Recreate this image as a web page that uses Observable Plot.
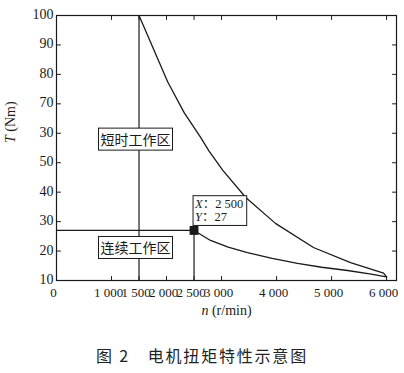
<!DOCTYPE html>
<html><head><meta charset="utf-8">
<script src="https://cdn.jsdelivr.net/npm/d3@7"></script>
<script src="https://cdn.jsdelivr.net/npm/@observablehq/plot@0.6"></script>
<style>
body{margin:0;background:#fff;}
#chart{width:404px;height:330px;}
.caption{font-family:"Noto Sans CJK SC",sans-serif;font-size:16px;letter-spacing:1.8px;text-align:center;white-space:pre;color:#222;line-height:20px;margin-top:15px;width:404px;}
</style></head><body>
<div id="chart"></div>
<div class="caption">图 2　电机扭矩特性示意图</div>
<script>
// Peak (short-time) torque curve
const upperN = [1500, 2020, 2320, 2620, 2770, 3020, 3440, 3980, 4670, 5345, 5945, 6000];
const upperT = [100, 77.5, 67, 58.6, 54, 47.5, 38.2, 29.4, 21.2, 16.1, 12.5, 11.2];
// Continuous torque curve
const lowerN = [2500, 2800, 3120, 3470, 3920, 4380, 4820, 5290, 5720, 5945, 6000];
const lowerT = [27, 23.6, 21.3, 19.5, 17.5, 15.8, 14.5, 13.4, 12.2, 11.4, 11.2];
// Reference values
const baseSpeed = 1500;
const markN = 2500;
const markT = 27;
const yMin = 10, yMax = 100, xMin = 0, xMax = 6180;
// Ticks
const xTicks = [0, 1000, 1500, 2000, 2500, 3000, 4000, 5000, 6000];
const xTickLabels = ["0", "1 000", "1 500", "2 000", "2 500", "3 000", "4 000", "5 000", "6 000"];
const yTicks = [10, 20, 30, 40, 50, 60, 70, 80, 90, 100];
const yTickLabels = ["10", "20", "30", "40", "50", "30", "70", "80", "90", "100"];
// Annotations
const regionNames = ["短时工作区", "连续工作区"];
const regionN = [1436, 1436];
const regionT = [57.5, 20.7];
const markLabel = "X：2 500\nY：27";
const xLabel = "n (r/min)";
const yLabel = "T (Nm)";

const ink = "#1a1a1a";
const serif = '"Liberation Serif","Times New Roman","DejaVu Serif","Noto Sans CJK SC",serif';
const cjk = '"Noto Sans CJK SC",sans-serif';
const upper = upperN.map((n, i) => ({n, T: upperT[i]}));
const lower = lowerN.map((n, i) => ({n, T: lowerT[i]}));
const regions = regionNames.map((label, i) => ({label, n: regionN[i], T: regionT[i]}));
const line = {draw(ctx, l) { ctx.moveTo(0, 0); ctx.lineTo(0, -l); }};
const tk = {length: 4, anchor: "start", shape: line, stroke: ink, strokeWidth: 1};

const svg = Plot.plot({
  width: 404, height: 330,
  marginLeft: 56, marginRight: 8, marginTop: 15, marginBottom: 50,
  style: {fontFamily: serif, fontSize: "13px", color: ink, background: "#fff"},
  x: {domain: [xMin, xMax]},
  y: {domain: [yMin, yMax]},
  marks: [
    Plot.ruleX([baseSpeed], {y1: yMin, y2: yMax, stroke: ink, strokeWidth: 1.2}),
    Plot.ruleY([markT], {x1: xMin, x2: markN, stroke: ink, strokeWidth: 1.2}),
    Plot.ruleX([markN], {y1: yMin, y2: markT, stroke: ink, strokeWidth: 1.2}),
    Plot.line(upper, {x: "n", y: "T", stroke: ink, strokeWidth: 1.3}),
    Plot.line(lower, {x: "n", y: "T", stroke: ink, strokeWidth: 1.3}),
    Plot.dot([{n: markN, T: markT}], {x: "n", y: "T", symbol: "square", r: 5, fill: ink, stroke: null}),
    Plot.text(regions, {x: "n", y: "T", text: "label", fontSize: 14, fontFamily: cjk, fill: ink}),
    Plot.text([markLabel], {x: markN, y: markT, textAnchor: "start", lineAnchor: "bottom", dx: 1, dy: -9, fontSize: 12.5, lineHeight: 1.1, fontFamily: serif, fill: ink}),
    Plot.frame({stroke: ink, strokeWidth: 1.2}),
    Plot.vector(xTicks, {x: d => d, y: yMin, rotate: 0, ...tk}),
    Plot.vector(xTicks, {x: d => d, y: yMax, rotate: 180, ...tk}),
    Plot.vector(yTicks, {y: d => d, x: xMin, rotate: 90, ...tk}),
    Plot.vector(yTicks, {y: d => d, x: xMax, rotate: -90, ...tk}),
    Plot.axisX({ticks: xTicks, tickFormat: d => xTickLabels[xTicks.indexOf(d)], tickSize: 0, tickPadding: 7, dx: -3, label: null, fontSize: 13, fontFamily: serif, fill: ink}),
    Plot.axisY({ticks: yTicks, tickFormat: d => yTickLabels[yTicks.indexOf(d)], tickSize: 0, tickPadding: 3, dy: -1, label: null, fontSize: 14, fontFamily: serif, fill: ink}),
    Plot.text([xLabel], {frameAnchor: "bottom", dy: 34, fontSize: 14, fontFamily: serif, fill: ink}),
    Plot.text([yLabel], {frameAnchor: "left", rotate: -90, dx: -46, dy: -5, fontSize: 14, fontFamily: serif, fill: ink})
  ]
});
svg.style.fontFamily = serif;
document.getElementById("chart").append(svg);

const ns = "http://www.w3.org/2000/svg";
function italicizeFirst(el) {
  const s = el.textContent;
  el.textContent = "";
  const a = document.createElementNS(ns, "tspan");
  a.setAttribute("font-style", "italic");
  a.textContent = s[0];
  const b = document.createElementNS(ns, "tspan");
  b.textContent = s.slice(1);
  el.append(a, b);
}
const texts = Array.from(svg.querySelectorAll("text"));
// White boxes with outline around the annotation labels
for (const t of texts) {
  const c = t.textContent;
  if (regionNames.includes(c) || c.startsWith("X：")) {
    const bb = t.getBBox();
    const r = document.createElementNS(ns, "rect");
    const px = 2, py = 1;
    r.setAttribute("x", bb.x - px);
    r.setAttribute("y", bb.y - py);
    r.setAttribute("width", bb.width + 2 * px);
    r.setAttribute("height", bb.height + 2 * py);
    r.setAttribute("fill", "#fff");
    r.setAttribute("stroke", ink);
    r.setAttribute("stroke-width", 1);
    if (t.getAttribute("transform")) r.setAttribute("transform", t.getAttribute("transform"));
    t.parentNode.insertBefore(r, t);
  }
}
for (const t of texts) {
  const c = t.textContent;
  if (c === xLabel || c === yLabel) italicizeFirst(t);
  if (c.startsWith("X：")) {
    t.querySelectorAll("tspan").forEach(italicizeFirst);
  }
}
</script>
</body></html>
